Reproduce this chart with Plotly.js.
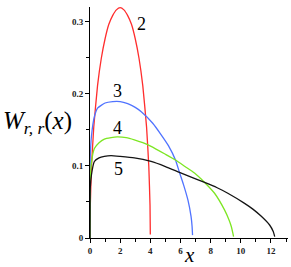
<!DOCTYPE html>
<html><head><meta charset="utf-8">
<script src="https://cdn.plot.ly/plotly-3.0.1.min.js"></script>
<style>html,body{margin:0;padding:0;background:#fff}</style>
</head><body><div id="chart" style="width:291px;height:267px"></div>
<script>
// r = 2 (red)
const x2 = [0, 0.02, 0.1, 0.25, 0.5, 0.75, 1, 1.25, 1.5, 1.75, 2, 2.25, 2.5, 2.75, 3, 3.25, 3.5, 3.75, 3.9, 3.98, 4.0];
const y2 = [0, 0.045, 0.099, 0.154, 0.211, 0.249, 0.276, 0.296, 0.308, 0.316, 0.319, 0.316, 0.308, 0.296, 0.276, 0.249, 0.211, 0.154, 0.099, 0.045, 0.005];
// r = 3 (blue)
const x3 = [0, 0.02, 0.1, 0.29, 0.5, 1, 1.5, 2, 2.5, 3, 3.4, 4.16, 4.72, 5.2, 5.67, 5.93, 6.2, 6.5, 6.7, 6.77, 6.8];
const y3 = [0, 0.113, 0.142, 0.168, 0.180, 0.187, 0.189, 0.189, 0.186, 0.181, 0.175, 0.159, 0.143, 0.128, 0.108, 0.091, 0.074, 0.052, 0.030, 0.016, 0.004];
// r = 4 (green)
const x4 = [0, 0.02, 0.1, 0.29, 0.6, 0.95, 1.4, 1.8, 2.4, 2.94, 3.5, 4.05, 5, 5.67, 6.3, 6.93, 7.6, 8.26, 8.92, 9.2, 9.37, 9.48, 9.52];
const y4 = [0, 0.080, 0.105, 0.124, 0.132, 0.137, 0.139, 0.140, 0.139, 0.136, 0.132, 0.127, 0.116, 0.108, 0.099, 0.090, 0.077, 0.062, 0.039, 0.026, 0.016, 0.006, 0.002];
// r = 5 (black)
const x5 = [0, 0.02, 0.1, 0.29, 0.6, 0.95, 1.4, 2, 2.94, 4.05, 5, 5.93, 7, 7.6, 8.4, 9.14, 10.25, 10.8, 11.36, 11.91, 12.15, 12.25];
const y5 = [0, 0.070, 0.088, 0.106, 0.111, 0.113, 0.114, 0.113, 0.111, 0.106, 0.099, 0.091, 0.082, 0.077, 0.070, 0.062, 0.048, 0.040, 0.030, 0.018, 0.009, 0.002];

const labels = ['2', '3', '4', '5'];
const colors = ['rgb(255,45,45)', 'rgb(80,115,255)', 'rgb(125,230,35)', 'rgb(20,20,20)'];
const xs = [x2, x3, x4, x5], ys = [y2, y3, y4, y5];

const traces = xs.map((xx, i) => ({
  x: xx, y: ys[i], type: 'scatter', mode: 'lines',
  line: {color: colors[i], width: 1.3, shape: 'spline', smoothing: 0.4},
  hoverinfo: 'skip', showlegend: false
}));

const labelPos = [[3.41, 0.296], [1.81, 0.204], [1.83, 0.152], [1.88, 0.096]];
const serif = 'Liberation Serif';
const annotations = labels.map((t, i) => ({
  x: labelPos[i][0], y: labelPos[i][1], xref: 'x', yref: 'y', text: t, showarrow: false,
  font: {family: serif, size: 18, color: '#000'}, xanchor: 'center', yanchor: 'middle'
}));
annotations.push({
  xref: 'paper', yref: 'paper', x: -0.448, y: 0.50, xanchor: 'left', yanchor: 'middle',
  text: '<i>W</i><sub><i>r, r</i></sub>(<i>x</i>)', showarrow: false,
  font: {family: serif, size: 25, color: '#000'}
});
annotations.push({
  xref: 'paper', yref: 'paper', x: 0.505, y: -0.072, xanchor: 'center', yanchor: 'middle',
  text: '<i>x</i>', showarrow: false, font: {family: serif, size: 21, color: '#000'}
});

const tickFont = {family: serif, size: 9, color: '#222', weight: 'bold'};
const layout = {
  width: 291, height: 267,
  font: {family: serif},
  margin: {l: 90, r: 3, t: 7, b: 29, pad: 0},
  paper_bgcolor: '#fff', plot_bgcolor: '#fff',
  xaxis: {range: [0, 13.13], showgrid: false, zeroline: false, showline: true, linecolor: '#000', linewidth: 1,
    ticks: 'outside', ticklen: 4, tickcolor: '#000', tickwidth: 1, dtick: 2, tick0: 0, tickfont: tickFont,
    minor: {dtick: 1, tick0: 0, ticks: 'outside', ticklen: 3, tickcolor: '#000', showgrid: false}},
  yaxis: {range: [0, 0.32], showgrid: false, zeroline: false, showline: true, linecolor: '#000', linewidth: 1,
    ticks: 'outside', ticklen: 4, tickcolor: '#000', tickwidth: 1, dtick: 0.1, tick0: 0, tickfont: tickFont,
    minor: {dtick: 0.05, tick0: 0, ticks: 'outside', ticklen: 3, tickcolor: '#000', showgrid: false}},
  annotations: annotations
};
Plotly.newPlot('chart', traces, layout, {displayModeBar: false, staticPlot: true});
</script></body></html>
